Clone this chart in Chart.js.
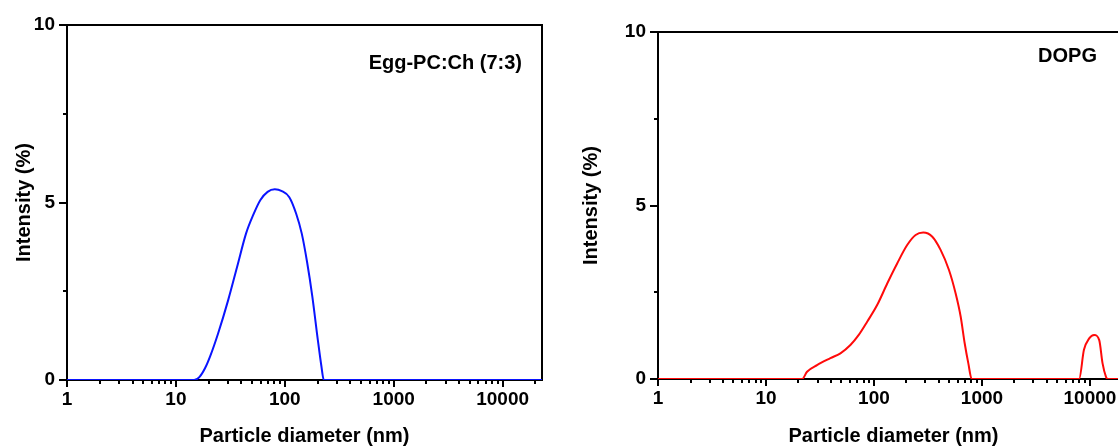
<!DOCTYPE html>
<html>
<head>
<meta charset="utf-8">
<script src="https://cdn.jsdelivr.net/npm/chart.js@4.4.0/dist/chart.umd.min.js"></script>
<style>
  html, body { margin: 0; padding: 0; background: #fff; overflow: hidden; }
  #wrap { position: relative; width: 1118px; height: 448px; overflow: hidden; }
  #left { position: absolute; left: 0; top: 0; }
  #right { position: absolute; left: 560px; top: 0; }
</style>
</head>
<body>
<div id="wrap">
  <canvas id="left" width="560" height="448"></canvas>
  <canvas id="right" width="600" height="448"></canvas>
</div>
<script>
// tick labels
const xTickLabels = ["1", "10", "100", "1000", "10000"];
const yTickLabels = ["0", "5", "10"];

// Egg-PC:Ch (7:3) size distribution
const eggDiameter  = [1, 14.7, 16.5, 18.5, 20.7, 24.4, 30.2, 36.5, 44.1, 51.3, 59.7, 69.5, 80.9, 94, 110,
                      127, 143, 160, 179, 201, 217, 228, 23000];
const eggIntensity = [0, 0, 0.09, 0.33, 0.68, 1.31, 2.25, 3.19, 4.13, 4.65, 5.07, 5.30, 5.37, 5.32, 5.15,
                      4.69, 4.13, 3.33, 2.35, 1.13, 0.38, 0, 0];

// DOPG size distribution
const dopgDiameter  = [1, 21.6, 24, 29.7, 39.5, 48.9, 60.5, 72.3, 86.5, 107, 133, 164, 203, 243, 286, 347,
                       414, 495, 570, 635, 692, 748, 804,
                       7940, 8800, 9840, 10940, 12190, 13090, 14060, 14590, 23000];
const dopgIntensity = [0, 0, 0.21, 0.40, 0.60, 0.74, 0.98, 1.27, 1.65, 2.13, 2.76, 3.33, 3.86, 4.15, 4.22, 4.10,
                       3.72, 3.14, 2.47, 1.80, 1.03, 0.45, 0,
                       0, 0.84, 1.17, 1.27, 1.12, 0.45, 0.07, 0, 0];

Chart.defaults.font.family = "'Liberation Sans', Arial, sans-serif";
Chart.defaults.font.weight = "bold";
Chart.defaults.color = "#000";

// frame, outward ticks and the sample label
const framePlugin = {
  id: "frame",
  beforeDatasetsDraw(chart, args, opts) {
    const { ctx, chartArea: a, scales } = chart;
    ctx.save();
    ctx.strokeStyle = "#000";
    ctx.lineWidth = 2;
    ctx.strokeRect(a.left, a.top, a.right - a.left, a.bottom - a.top);
    ctx.beginPath();
    scales.x.ticks.forEach((t) => {
      const px = Math.round(scales.x.getPixelForValue(t.value));
      const len = xTickLabels.includes(String(t.value)) ? 7 : 4;
      ctx.moveTo(px, a.bottom);
      ctx.lineTo(px, a.bottom + len);
    });
    scales.y.ticks.forEach((t) => {
      const py = Math.round(scales.y.getPixelForValue(t.value));
      const len = yTickLabels.includes(String(t.value)) ? 8 : 4;
      ctx.moveTo(a.left, py);
      ctx.lineTo(a.left - len, py);
    });
    ctx.stroke();
    ctx.restore();
  },
  afterDraw(chart, args, opts) {
    const { ctx, chartArea: a } = chart;
    ctx.save();
    ctx.font = "bold 20px 'Liberation Sans', Arial, sans-serif";
    ctx.fillStyle = "#000";
    ctx.textAlign = "right";
    ctx.textBaseline = "alphabetic";
    ctx.fillText(opts.text, a.right - opts.dx, a.top + opts.dy);
    ctx.restore();
  }
};

function makeChart(id, xs, ys, color, cfg) {
  const points = xs.map((x, i) => ({ x: x, y: ys[i] }));
  return new Chart(document.getElementById(id), {
    type: "line",
    data: {
      datasets: [{
        data: points,
        borderColor: color,
        borderWidth: 2,
        pointRadius: 0,
        fill: false,
        cubicInterpolationMode: "monotone"
      }]
    },
    options: {
      responsive: false,
      animation: false,
      events: [],
      layout: { padding: { top: cfg.top, right: cfg.right, left: 0, bottom: 0 } },
      plugins: {
        legend: { display: false },
        tooltip: { enabled: false },
        frame: { text: cfg.label, dx: cfg.dx, dy: cfg.dy }
      },
      scales: {
        x: {
          type: "logarithmic",
          min: 1,
          max: 23000,
          afterBuildTicks(scale) {
            const t = [];
            for (let d = 1; d <= 10000; d *= 10) {
              for (let m = 1; m <= 9; m++) {
                if (m * d <= scale.max) t.push({ value: m * d });
              }
            }
            scale.ticks = t;
          },
          afterFit(scale) { scale.height = cfg.xHeight; },
          grid: { drawOnChartArea: false, tickLength: 7, tickColor: "transparent" },
          border: { display: false },
          ticks: {
            autoSkip: false,
            maxRotation: 0,
            padding: 1,
            font: { size: 19, weight: "bold" },
            callback: (v) => (xTickLabels.includes(String(v)) ? String(v) : "")
          },
          title: {
            display: true,
            text: "Particle diameter (nm)",
            font: { size: 20, weight: "bold" },
            padding: { top: 0, bottom: 0 }
          }
        },
        y: {
          min: 0,
          max: 10,
          afterFit(scale) { scale.width = cfg.yWidth; },
          grid: { drawOnChartArea: false, tickLength: 8, tickColor: "transparent" },
          border: { display: false },
          ticks: {
            stepSize: 2.5,
            padding: 4,
            font: { size: 19, weight: "bold" },
            callback: (v) => (yTickLabels.includes(String(v)) ? String(v) : "")
          },
          title: {
            display: true,
            text: "Intensity (%)",
            font: { size: 20, weight: "bold" },
            padding: { top: cfg.titlePad, bottom: 0 }
          }
        }
      }
    },
    plugins: [framePlugin]
  });
}

makeChart("left", eggDiameter, eggIntensity, "#0a14ff", {
  top: 25, right: 18, xHeight: 68, yWidth: 67, titlePad: 12,
  label: "Egg-PC:Ch (7:3)", dx: 20, dy: 44
});

makeChart("right", dopgDiameter, dopgIntensity, "#ff0a0a", {
  top: 32, right: 31, xHeight: 69, yWidth: 98, titlePad: 19,
  label: "DOPG", dx: 32, dy: 30
});
</script>
</body>
</html>
